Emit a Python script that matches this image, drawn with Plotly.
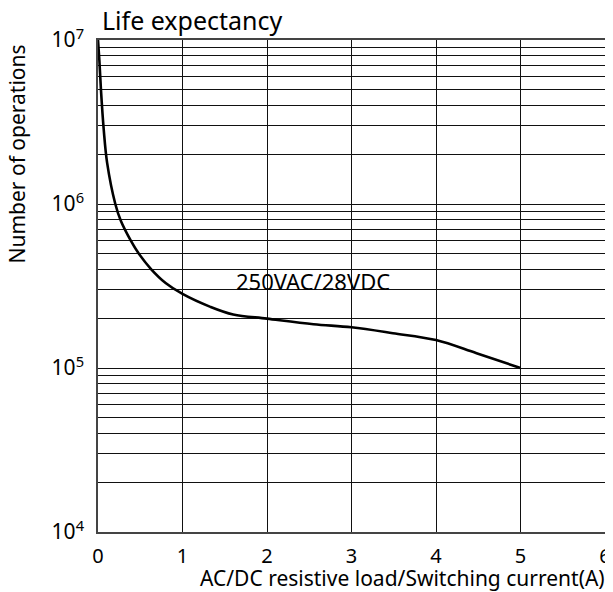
import math
import plotly.graph_objects as go

# Data
current_a = [0, 0.016, 0.035, 0.068, 0.108, 0.205, 0.27, 0.39, 0.48, 0.63, 0.80, 1.0,
             1.33, 1.60, 2.0, 2.55, 3.0, 3.49, 4.0, 4.48, 5.0]
operations = [1.0e7, 7.55e6, 4.96e6, 2.83e6, 1.78e6, 1.0e6, 7.9e5, 5.95e5, 5.0e5, 4.0e5, 3.3e5, 2.83e5,
              2.36e5, 2.12e5, 2.0e5, 1.85e5, 1.77e5, 1.63e5, 1.48e5, 1.23e5, 1.0e5]

x_ticks = [0, 1, 2, 3, 4, 5, 6]
decades = [4, 5, 6, 7]
series_label = "250VAC/28VDC"
label_x = 2.55
label_y = 3.41e5

# Gridlines at every 1..9 x 10^d, labels only at decades
y_tickvals = []
y_ticktext = []
for d in decades:
    for k in range(1, 10):
        if d == decades[-1] and k > 1:
            break
        y_tickvals.append(k * 10 ** d)
        y_ticktext.append(f"10<sup>{d}</sup>" if k == 1 else "")

FONT = "Noto Sans"

fig = go.Figure()
fig.add_trace(go.Scatter(
    x=current_a, y=operations, mode="lines",
    line=dict(color="black", width=2.6, shape="spline", smoothing=1.0),
    showlegend=False, hoverinfo="skip",
))

# page body has an 8px margin, so the figure is sized/offset to compensate
fig.update_layout(
    width=605, height=584,
    margin=dict(l=90, r=8, t=32, b=60, autoexpand=False),
    paper_bgcolor="white", plot_bgcolor="white",
    font=dict(family=FONT, color="black", size=20),
    showlegend=False,
)

fig.update_xaxes(
    range=[0, 6], tickvals=x_ticks, ticktext=[str(v) for v in x_ticks],
    showgrid=True, gridcolor="#111", gridwidth=1,
    showline=True, linecolor="#444", linewidth=1.5, mirror=True,
    zeroline=False, ticks="", ticklabelstandoff=5, automargin=False,
    tickfont=dict(family=FONT, size=20, color="black"),
)
fig.update_yaxes(
    type="log", range=[4, 7], tickvals=y_tickvals, ticktext=y_ticktext,
    showgrid=True, gridcolor="#111", gridwidth=1,
    showline=True, linecolor="#444", linewidth=1.5, mirror=True,
    zeroline=False, ticks="", ticklabelstandoff=8, automargin=False,
    tickfont=dict(family=FONT, size=21, color="black"),
)

fig.add_annotation(
    text=series_label, x=label_x, y=math.log10(label_y),
    xref="x", yref="y", showarrow=False,
    font=dict(family=FONT, size=22, color="black"),
    xanchor="center", yanchor="middle",
)
fig.add_annotation(
    text="Life expectancy", x=0.004, y=1.041, xref="paper", yref="paper",
    showarrow=False, xanchor="left", yanchor="middle",
    font=dict(family=FONT, size=25, color="black"),
)
fig.add_annotation(
    text="AC/DC resistive load/Switching current(A)", x=1.003, y=-0.0935,
    xref="paper", yref="paper", showarrow=False, xanchor="right", yanchor="middle",
    font=dict(family=FONT, size=21, color="black"),
)
fig.add_annotation(
    text="Number of operations", x=-0.159, y=0.768, xref="paper", yref="paper",
    showarrow=False, xanchor="center", yanchor="middle", textangle=-90,
    font=dict(family=FONT, size=21, color="black"),
)

fig.write_html("out.html")
